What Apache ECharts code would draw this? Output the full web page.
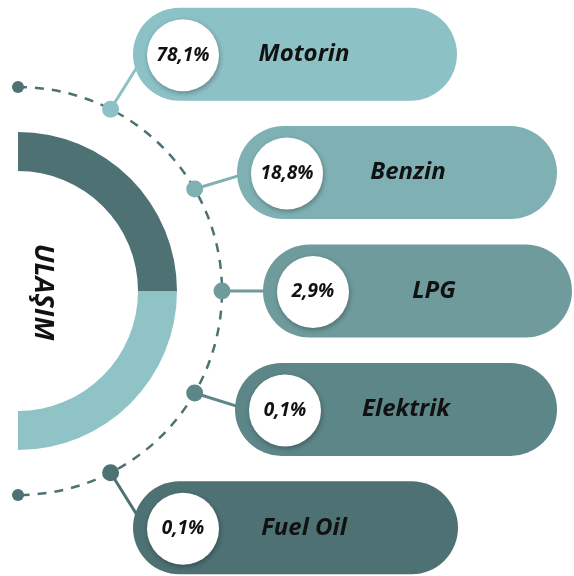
<!DOCTYPE html>
<html>
<head>
<meta charset="utf-8">
<script src="https://cdn.jsdelivr.net/npm/echarts@6/dist/echarts.min.js"></script>
<style>
  html, body { margin: 0; padding: 0; background: #fff; }
  #chart { width: 574px; height: 576px; }
</style>
</head>
<body>
<div id="chart"></div>
<script>
// data
const categories = ['Motorin', 'Benzin', 'LPG', 'Elektrik', 'Fuel Oil']
const shares = [78.1, 18.8, 2.9, 0.1, 0.1]
const groupTitle = 'ULAŞIM'
const ringHalves = [1, 1] // decorative half ring, drawn as two equal halves

// layout (pixels on the hidden 0..574 x axis)
const pillLeft = [133, 237, 263, 235, 133]
const pillRight = [457, 557, 572, 557, 458]
const pillColors = ['#8cc1c5', '#7fb1b4', '#6f9b9c', '#5d8688', '#4e7173']
const dotAngles = [63, 30, 0, -30, -63]
const ARC = { cx: 18, cy: 291, r: 204 }
const DARK = '#4e7173'
const LIGHT = '#8fc3c6'
const FONT = '"Open Sans", "DejaVu Sans", sans-serif'

const fmt = v => v.toFixed(1).replace('.', ',') + '%'

function renderPill(params, api) {
    const i = params.dataIndex
    const color = pillColors[i]
    const cy = api.coord([0, api.value(1)])[1]
    const x0 = api.coord([pillLeft[i], 0])[0]
    const x1 = api.coord([pillRight[i], 0])[0]
    const h = 93
    const ccx = x0 + 50
    const a = dotAngles[i] * Math.PI / 180
    const dx = ARC.cx + ARC.r * Math.cos(a)
    const dy = ARC.cy - ARC.r * Math.sin(a)
    return {
        type: 'group',
        children: [
            { type: 'line', shape: { x1: dx, y1: dy, x2: x0 + 12, y2: cy }, style: { stroke: color, lineWidth: 3 } },
            { type: 'circle', shape: { cx: dx, cy: dy, r: 8.5 }, style: { fill: color } },
            { type: 'rect', shape: { x: x0, y: cy - h / 2, width: x1 - x0, height: h, r: h / 2 }, style: { fill: color } },
            {
                type: 'circle', shape: { cx: ccx, cy: cy + 1, r: 36 },
                style: { fill: '#fff', shadowBlur: 5, shadowColor: 'rgba(0,0,0,0.3)', shadowOffsetX: 1, shadowOffsetY: 2 }
            },
            {
                type: 'text', x: ccx, y: cy + 1,
                style: { text: fmt(api.value(0)), font: 'italic bold 19px ' + FONT, fill: '#111', align: 'center', verticalAlign: 'middle' }
            },
            {
                type: 'text', x: x0 + 171, y: cy,
                style: { text: categories[i], font: 'italic bold 24px ' + FONT, fill: '#111', align: 'center', verticalAlign: 'middle' }
            }
        ]
    }
}

const chart = echarts.init(document.getElementById('chart'))

const option = {
    animation: false,
    grid: { left: 0, right: 0, top: -5, bottom: -11, outerBoundsMode: 'none', containLabel: false },
    xAxis: { type: 'value', min: 0, max: 574, show: false },
    yAxis: { type: 'category', data: categories, inverse: true, show: false },
    graphic: [
        {
            type: 'arc', z: 0,
            shape: { cx: ARC.cx, cy: ARC.cy, r: ARC.r, startAngle: -Math.PI / 2, endAngle: Math.PI / 2, clockwise: true },
            style: { stroke: DARK, lineWidth: 2.5, lineDash: [9, 8], fill: null }
        },
        { type: 'circle', z: 1, shape: { cx: ARC.cx, cy: ARC.cy - ARC.r, r: 6 }, style: { fill: DARK } },
        { type: 'circle', z: 1, shape: { cx: ARC.cx, cy: ARC.cy + ARC.r, r: 6 }, style: { fill: DARK } },
        {
            type: 'text', x: 43, y: 292, rotation: -Math.PI / 2, z: 5,
            style: { text: groupTitle, font: 'italic bold 27px ' + FONT, fill: '#111', align: 'center', verticalAlign: 'middle' }
        }
    ],
    series: [
        {
            type: 'pie',
            silent: true,
            center: [ARC.cx, ARC.cy],
            radius: [120, 159],
            startAngle: 90,
            endAngle: -90,
            clockwise: true,
            label: { show: false },
            labelLine: { show: false },
            itemStyle: { borderWidth: 0 },
            data: ringHalves.map((v, k) => ({ value: v, itemStyle: { color: k === 0 ? DARK : LIGHT } }))
        },
        {
            type: 'custom',
            silent: true,
            z: 3,
            renderItem: renderPill,
            encode: { x: 0, y: 1 },
            data: shares.map((v, i) => [v, i])
        }
    ]
}

chart.setOption(option)
</script>
</body>
</html>
